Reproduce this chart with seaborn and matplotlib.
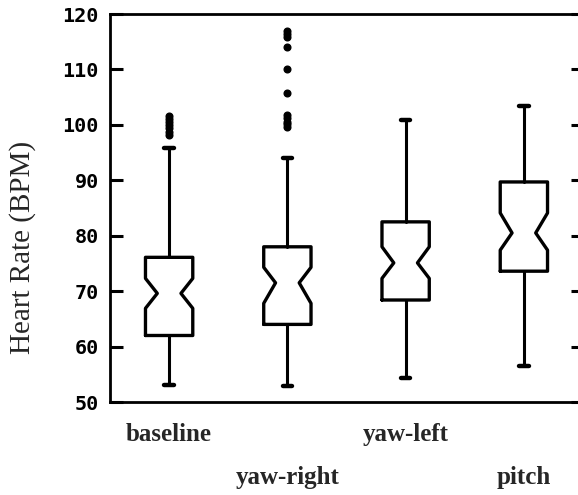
import matplotlib
matplotlib.use("Agg")
import matplotlib.pyplot as plt
import seaborn as sns

categories = ["baseline", "yaw-right", "yaw-left", "pitch"]
q1 = [62.0, 64.0, 68.4, 73.6]
medians = [69.6, 71.5, 75.1, 80.5]
q3 = [76.1, 78.0, 82.5, 89.7]
notch_lo = [66.9, 67.8, 72.3, 77.4]
notch_hi = [72.3, 74.3, 78.0, 84.1]
whisker_lo = [53.0, 52.8, 54.3, 56.5]
whisker_hi = [95.9, 94.1, 100.9, 103.4]
outliers = [
    [98.2, 98.8, 99.4, 100.0, 100.6, 101.1, 101.6],
    [99.6, 100.1, 100.6, 101.2, 101.8, 105.8, 110.0, 114.1, 115.8, 116.4, 117.0],
    [],
    [],
]
yticks = [50, 60, 70, 80, 90, 100, 110, 120]

sns.set_style("ticks")
plt.rcParams["font.family"] = ["Liberation Sans", "DejaVu Sans"]

fig = plt.figure(figsize=(5.78, 4.95), dpi=100)
ax = fig.add_axes([110 / 578, 93 / 495, 473 / 578, 388 / 495])

stats = []
for i, name in enumerate(categories):
    stats.append(dict(label=name, med=medians[i], q1=q1[i], q3=q3[i],
                      cilo=notch_lo[i], cihi=notch_hi[i],
                      whislo=whisker_lo[i], whishi=whisker_hi[i],
                      fliers=outliers[i]))

ax.bxp(stats, positions=range(len(categories)), widths=0.4, shownotches=True,
       capwidths=0.08, patch_artist=False,
       boxprops=dict(color="black", linewidth=2.4),
       whiskerprops=dict(color="black", linewidth=2.2),
       capprops=dict(color="black", linewidth=3.2, solid_capstyle="round"),
       medianprops=dict(linewidth=0),
       flierprops=dict(marker="o", markerfacecolor="black", markeredgecolor="black",
                       markersize=4.8))

ax.set_xlim(-0.5, 3.5)
ax.set_ylim(50, 120)
ax.set_yticks(yticks)
ax.set_yticklabels([str(v) for v in yticks], fontsize=14.5, fontweight="bold",
                   family=["DejaVu Sans Mono", "DejaVu Sans"])
ax.tick_params(axis="y", direction="in", length=9, width=2.2, pad=8,
               left=True, right=True, colors="black")
ax.set_xticks(range(len(categories)))
ax.set_xticklabels(categories, fontsize=18, fontweight="bold",
                   family=["Liberation Serif", "DejaVu Serif"])
ax.tick_params(axis="x", length=0)
for i, t in enumerate(ax.xaxis.get_major_ticks()):
    t.set_pad(15 if i % 2 == 0 else 46)

for side in ["left", "bottom", "top", "right"]:
    ax.spines[side].set_linewidth(2.0)
    ax.spines[side].set_color("black")

ax.set_ylabel("Heart Rate (BPM)", fontsize=21,
              family=["Liberation Serif", "DejaVu Serif"])
ax.yaxis.set_label_coords((36 - 110) / 473, (402 - 247) / 388)

fig.savefig("out.png", dpi=100)
